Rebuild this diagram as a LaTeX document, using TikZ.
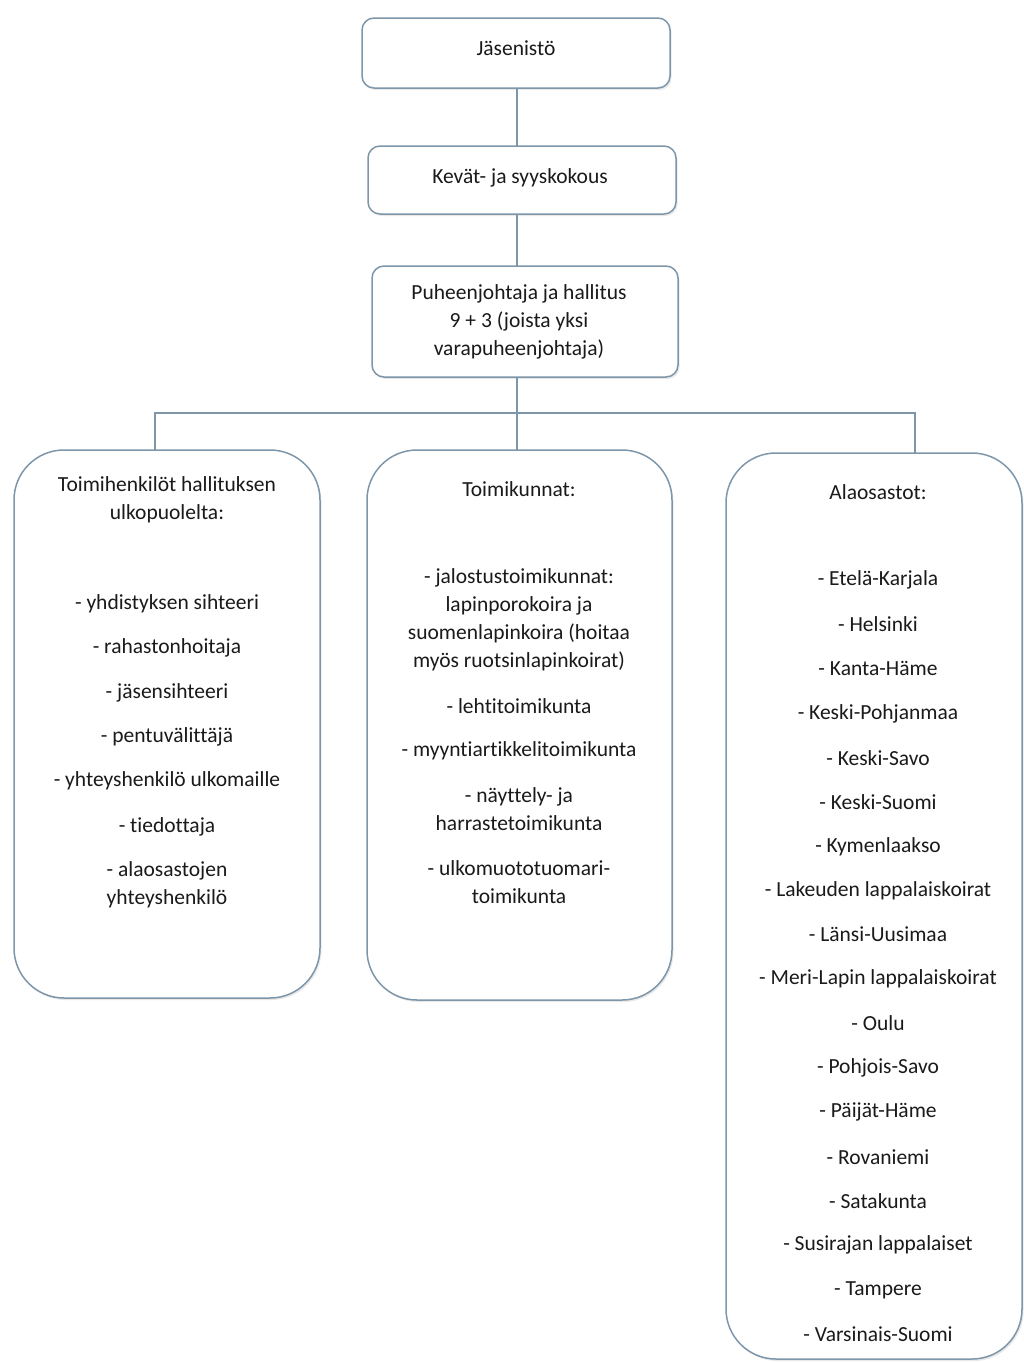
\documentclass[tikz,border=0pt]{standalone}
\usepackage{fontspec}
\setmainfont{Carlito}[RawFeature={-liga;-clig;-calt;-dlig}]
\usetikzlibrary{shadows}
\definecolor{bordc}{HTML}{7E96AA}
\definecolor{txtc}{HTML}{1A1A1A}
\tikzset{
  box/.style={draw=bordc, line width=1.5pt, fill=white, anchor=north west,
    drop shadow={opacity=0.18, shadow xshift=1.5pt, shadow yshift=-2pt},
    inner sep=0pt, outer sep=0pt},
  small/.style={box, rounded corners=12pt},
  big/.style={box, rounded corners=50pt},
  txt/.style={text=txtc, align=center, inner sep=0pt, font=\fontsize{21.5}{28}\selectfont},
  conn/.style={draw=bordc, line width=1.3pt}
}
\begin{document}
\begin{tikzpicture}[x=1pt,y=-1pt]
\useasboundingbox (0,0) rectangle (1024,1363);
% boxes
\node[small, minimum width=308pt, minimum height=70pt] (jas) at (362,18) {};
\node[small, minimum width=308pt, minimum height=68pt] (kev) at (368,146) {};
\node[small, minimum width=306pt, minimum height=111pt] (hal) at (372,266) {};
\node[big, minimum width=306pt, minimum height=548pt] (left) at (14,450) {};
\node[big, minimum width=305pt, minimum height=550pt] (mid) at (367,450) {};
\node[big, minimum width=296pt, minimum height=906pt] (right) at (726,453) {};
% connectors
\coordinate (bl) at (155,413);
\coordinate (br) at (915,413);
\coordinate (vx) at (517,0);
\draw[conn] (vx |- jas.south) -- (vx |- kev.north);
\draw[conn] (vx |- kev.south) -- (vx |- hal.north);
\draw[conn] (vx |- hal.south) -- (vx |- mid.north);
\draw[conn] (bl |- left.north) -- (bl) -- (br) -- (br |- right.north);
% top texts
\node[txt] (t1) at (516,48) {Jäsenistö};
\node[txt] (t2) at (520,178) {Kevät- ja syyskokous};
\node[txt] (t3) at (519,322) {Puheenjohtaja ja hallitus\\9 + 3 (joista yksi\\varapuheenjohtaja)};
% left column
\node[txt] (l0) at (167,500) {Toimihenkilöt hallituksen\\ulkopuolelta:};
\node[txt] (l1) at (167,604) {- yhdistyksen sihteeri};
\node[txt] (l2) at (167,648) {- rahastonhoitaja};
\node[txt] (l3) at (167,693) {- jäsensihteeri};
\node[txt] (l4) at (167,737) {- pentuvälittäjä};
\node[txt] (l5) at (167,781) {- yhteyshenkilö ulkomaille};
\node[txt] (l6) at (167,827) {- tiedottaja};
\node[txt] (l7) at (167,885) {- alaosastojen\\yhteyshenkilö};
% middle column
\node[txt] (m0) at (519,489) {Toimikunnat:};
\node[txt] (m1) at (519,620) {- jalostustoimikunnat:\\lapinporokoira ja\\suomenlapinkoira (hoitaa\\myös ruotsinlapinkoirat)};
\node[txt] (m2) at (519,706) {- lehtitoimikunta};
\node[txt] (m3) at (519,751) {- myyntiartikkelitoimikunta};
\node[txt] (m4) at (519,809) {- näyttely- ja\\harrastetoimikunta};
\node[txt] (m5) at (519,882) {- ulkomuototuomari-\\toimikunta};
% right column
\node[txt] (r0) at (878,492) {Alaosastot:};
\foreach \n/\y/\s in {1/580/{- Etelä-Karjala},2/624/{- Helsinki},3/668/{- Kanta-Häme},
  4/714/{- Keski-Pohjanmaa},5/758/{- Keski-Savo},6/802/{- Keski-Suomi},7/847/{- Kymenlaakso},
  8/891/{- Lakeuden lappalaiskoirat},9/934/{- Länsi-Uusimaa},10/979/{- Meri-Lapin lappalaiskoirat},
  11/1023/{- Oulu},12/1068/{- Pohjois-Savo},13/1112/{- Päijät-Häme},14/1157/{- Rovaniemi},
  15/1201/{- Satakunta},16/1245/{- Susirajan lappalaiset},17/1290/{- Tampere},18/1334/{- Varsinais-Suomi}}
  \node[txt] (r\n) at (878,\y) {\s};
\end{tikzpicture}
\end{document}
